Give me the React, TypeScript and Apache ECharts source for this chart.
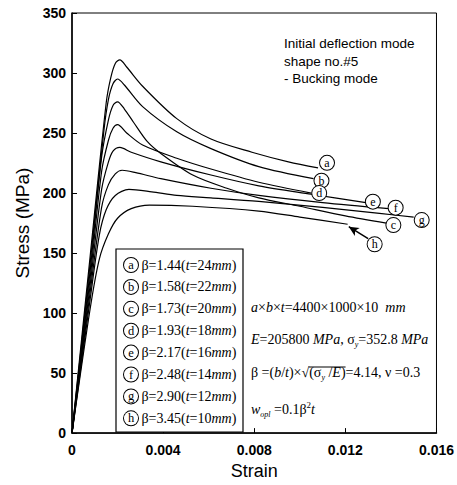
import React, { useEffect, useRef } from "react";
import * as echarts from "echarts";

// Strain ticks and stress ticks
const strainTicks = [0, 0.004, 0.008, 0.012, 0.016];
const stressMax = 350;

// Curves: [strain, stress (MPa)]
const curveA = [[0, 0], [0.0008, 148], [0.0015, 275], [0.0017, 296], [0.0019, 308], [0.0021, 311], [0.0024, 305], [0.0031, 289], [0.0046, 262], [0.0061, 245], [0.0079, 234], [0.0095, 226], [0.0108, 221]];
const curveB = [[0, 0], [0.0008, 142], [0.0014, 252], [0.0016, 278], [0.0018, 291], [0.002, 295], [0.0023, 290], [0.0031, 272], [0.0046, 251], [0.0061, 237], [0.0082, 222], [0.0106, 212]];
const curveC = [[0, 0], [0.0008, 136], [0.0013, 230], [0.0016, 261], [0.0018, 273], [0.002, 276], [0.0023, 270], [0.0027, 259], [0.0033, 243], [0.0039, 233], [0.0053, 215], [0.0068, 204], [0.0082, 196], [0.01, 189], [0.012, 181], [0.0138, 175]];
const curveD = [[0, 0], [0.0008, 130], [0.0013, 218], [0.0016, 244], [0.0018, 254], [0.002, 257], [0.0024, 250], [0.0031, 240], [0.0046, 229], [0.0061, 220], [0.0082, 209], [0.0105, 200]];
const curveE = [[0, 0], [0.0008, 124], [0.0013, 203], [0.0016, 226], [0.0018, 235], [0.0021, 238], [0.0026, 234], [0.0039, 226], [0.0061, 215], [0.0082, 206], [0.0105, 199], [0.0129, 192]];
const curveF = [[0, 0], [0.0008, 118], [0.0013, 188], [0.0016, 207], [0.0019, 216], [0.0022, 219], [0.0028, 217], [0.0039, 212], [0.0061, 204], [0.0082, 198], [0.011, 192], [0.0139, 187]];
const curveG = [[0, 0], [0.0008, 112], [0.0012, 165], [0.0015, 186], [0.0019, 198], [0.0025, 203], [0.0035, 201], [0.0046, 198], [0.0061, 196], [0.0082, 193], [0.011, 188], [0.0135, 183], [0.015, 180]];
const curveH = [[0, 0], [0.0008, 104], [0.0012, 145], [0.0016, 166], [0.002, 179], [0.0026, 187], [0.0034, 190], [0.0053, 189], [0.0082, 185], [0.01, 180], [0.0121, 174]];

const curveTags = ["a", "b", "c", "d", "e", "f", "g", "h"];
const betaValues = ["1.44", "1.58", "1.73", "1.93", "2.17", "2.48", "2.90", "3.45"];
const thicknessValues = ["24", "22", "20", "18", "16", "14", "12", "10"];

// Arrow pointing at curve (h) end: [strain, stress]
const arrowFrom = [0.013, 162];
const arrowTo = [0.01215, 172];

const SERIF = "'Liberation Serif', 'DejaVu Serif', serif";
const SANS = "'Liberation Sans', Arial, sans-serif";

const circleStyle = {
  fontFamily: SERIF,
  fontSize: 12,
  width: 12,
  height: 12,
  lineHeight: 12,
  align: "center",
  verticalAlign: "middle",
  borderColor: "#000",
  borderWidth: 1,
  borderRadius: 7,
  padding: [1, 1, 1, 1],
  backgroundColor: "#fff",
  color: "#000",
};

function measure(text: string, font: string): number {
  const cv = document.createElement("canvas");
  const ctx = cv.getContext("2d");
  if (!ctx) return text.length * 7;
  ctx.font = font;
  return ctx.measureText(text).width;
}

export default function App() {
  const ref = useRef<HTMLDivElement>(null);

  useEffect(() => {
    if (!ref.current) return;
    const chart = echarts.init(ref.current, undefined, { renderer: "svg" });

    const curves = [curveA, curveB, curveC, curveD, curveE, curveF, curveG, curveH];
    const labelOffsets = [[2, -5], [1, 2], [0, 2], [1, 0], [0, -1], [0, -1], [1, 3], [20, 20]];

    const series: any[] = curves.map((c, i) => ({
      type: "line",
      data: c,
      showSymbol: false,
      smooth: 0.3,
      lineStyle: { color: "#000", width: 1.2 },
      endLabel: {
        show: true,
        formatter: `{c|${curveTags[i]}}`,
        distance: 0,
        offset: labelOffsets[i],
        rich: { c: circleStyle },
      },
      z: i === 7 ? 3 : 2,
      ...(i === 7
        ? {
            markLine: {
              silent: true,
              symbol: ["none", "arrow"],
              symbolSize: [7, 10],
              label: { show: false },
              lineStyle: { color: "#000", width: 1.5, type: "solid" },
              data: [[{ coord: arrowFrom }, { coord: arrowTo }]],
            },
          }
        : {}),
    }));

    const richBase: any = {
      n: { fontFamily: SERIF, fontSize: 14, lineHeight: 18, color: "#000" },
      i: { fontFamily: SERIF, fontSize: 14, fontStyle: "italic", lineHeight: 18, color: "#000" },
      sub: { fontFamily: SERIF, fontSize: 8, fontStyle: "italic", lineHeight: 8, verticalAlign: "bottom", color: "#000" },
      sup: { fontFamily: SERIF, fontSize: 9, lineHeight: 9, verticalAlign: "top", color: "#000" },
      c: { ...circleStyle, fontSize: 12.5 },
    };

    // overline of the square root in line 3
    const fN = "14px 'Liberation Serif'";
    const fI = "italic 14px 'Liberation Serif'";
    const fS = "italic 8px 'Liberation Serif'";
    const line3Left = 251;
    const x1 =
      line3Left +
      measure("β =(", fN) +
      measure("b", fI) +
      measure("/", fN) +
      measure("t", fI) +
      measure(")×√", fN);
    const x2 = x1 + measure("(σ", fN) + measure("y", fS) + measure(" /", fN) + measure("E", fI) + measure(")", fN);

    const legendTexts = curveTags.map((tag, i) => ({
      type: "text",
      left: 123,
      top: 257 + i * 21.9,
      z: 11,
      style: {
        text: `{c|${tag}}{n| β=${betaValues[i]}(}{i|t}{n|=${thicknessValues[i]}}{i|mm}{n|)}`,
        rich: richBase,
      },
    }));

    const option: any = {
      animation: false,
      grid: { left: 72, top: 13, right: 20, bottom: 48, show: true, borderColor: "#000", borderWidth: 1, backgroundColor: "transparent" },
      xAxis: {
        type: "value",
        min: strainTicks[0],
        max: strainTicks[strainTicks.length - 1],
        interval: 0.004,
        name: "Strain",
        nameLocation: "middle",
        nameGap: 26,
        nameTextStyle: { fontFamily: SANS, fontSize: 18, color: "#000" },
        axisLine: { lineStyle: { color: "#000", width: 1.5 } },
        axisTick: { inside: true, length: 5, lineStyle: { color: "#000" } },
        splitLine: { show: false },
        axisLabel: {
          fontFamily: SANS,
          fontWeight: "bold",
          fontSize: 14,
          color: "#000",
          margin: 10,
          formatter: (v: number) => (v === 0 ? "0" : v.toFixed(3)),
        },
      },
      yAxis: {
        type: "value",
        min: 0,
        max: stressMax,
        interval: 50,
        name: "Stress (MPa)",
        nameLocation: "middle",
        nameGap: 40,
        nameTextStyle: { fontFamily: SANS, fontSize: 19, color: "#000" },
        axisLine: { show: true, lineStyle: { color: "#000", width: 1.5 } },
        axisTick: { show: true, inside: true, length: 5, lineStyle: { color: "#000" } },
        splitLine: { show: false },
        axisLabel: { fontFamily: SANS, fontWeight: "bold", fontSize: 14, color: "#000", margin: 6 },
      },
      series,
      graphic: [
        {
          type: "text",
          left: 284,
          top: 35,
          style: {
            text: "Initial deflection mode\nshape no.#5\n- Bucking mode",
            fontFamily: SANS,
            fontSize: 13.5,
            lineHeight: 17.5,
            fill: "#000",
          },
        },
        {
          type: "rect",
          shape: { x: 116, y: 249, width: 127, height: 183 },
          style: { fill: "#fff", stroke: "#000", lineWidth: 1.2 },
          z: 10,
        },
        ...legendTexts,
        {
          type: "text",
          left: 251,
          top: 300,
          z: 11,
          style: {
            text: "{i|a}{n|×}{i|b}{n|×}{i|t}{n|=4400×1000×10  }{i|mm}",
            rich: richBase,
          },
        },
        {
          type: "text",
          left: 251,
          top: 332,
          z: 11,
          style: {
            text: "{i|E}{n|=205800 }{i|MPa}{n|, σ}{sub|y}{n|=352.8 }{i|MPa}",
            rich: richBase,
          },
        },
        {
          type: "text",
          left: line3Left,
          top: 365,
          z: 11,
          style: {
            text: "{n|β =(}{i|b}{n|/}{i|t}{n|)×√(σ}{sub|y}{n| /}{i|E}{n|)=4.14, ν =0.3}",
            rich: richBase,
          },
        },
        {
          type: "line",
          z: 11,
          shape: { x1: x1 - 0.5, y1: 367, x2: x2, y2: 367 },
          style: { stroke: "#000", lineWidth: 1 },
        },
        {
          type: "text",
          left: 251,
          top: 400,
          z: 11,
          style: {
            text: "{i|w}{sub|opl}{n| =0.1β}{sup|2}{i|t}",
            rich: richBase,
          },
        },
      ],
    };

    chart.setOption(option);
    return () => chart.dispose();
  }, []);

  return (
    <div
      ref={ref}
      style={{ position: "absolute", left: 0, top: 0, width: 457, height: 485, background: "#fff" }}
    />
  );
}
